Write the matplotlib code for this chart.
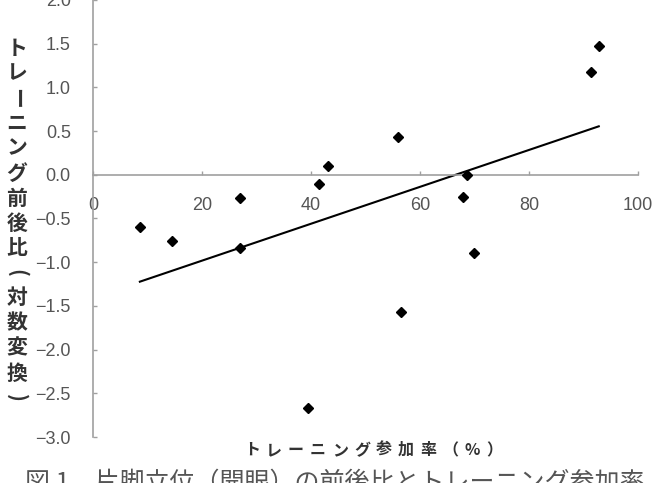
import numpy as np
import matplotlib
matplotlib.use("Agg")
import matplotlib.pyplot as plt

# トレーニング参加率 (%) と 前後比 (対数変換)
participation = [8.6, 14.5, 27.0, 27.0, 39.5, 41.5, 43.2, 56.0, 56.5,
                 67.9, 68.7, 69.9, 91.4, 92.8]
log_ratio = [-0.60, -0.76, -0.27, -0.84, -2.67, -0.11, 0.10, 0.43, -1.57,
             -0.25, 0.00, -0.90, 1.18, 1.47]

x_ticks = [0, 20, 40, 60, 80, 100]
y_ticks = [-3.0, -2.5, -2.0, -1.5, -1.0, -0.5, 0.0, 0.5, 1.0, 1.5, 2.0]

ylabel_chars = list("トレーニング前後比(対数変換)")
xlabel_chars = list("トレーニング参加率（%）")
caption = "図 1　片脚立位（開眼）の前後比とトレーニング参加率"

W, H = 653, 483
CJK = ["Noto Sans CJK JP", "DejaVu Sans"]
ROTATE = {"ー", "(", ")"}


def px(x, y):
    return x / W, 1 - y / H


fig = plt.figure(figsize=(W / 100, H / 100), dpi=100)
ax = fig.add_axes([93 / W, 1 - 437 / H, 545 / W, 437 / H])

ax.plot(participation, log_ratio, "D", color="black", markersize=5.5, zorder=3)

slope, intercept = np.polyfit(participation, log_ratio, 1)
xs = np.array([min(participation), max(participation)])
ax.plot(xs, slope * xs + intercept, color="black", linewidth=1.5, zorder=2)

ax.set_xlim(0, 100)
ax.set_ylim(-3.0, 2.0)
ax.set_xticks(x_ticks)
ax.set_yticks(y_ticks)
ax.set_xticklabels([str(t) for t in x_ticks])
ax.set_yticklabels([f"{t:.1f}".replace("-", "\u2212") for t in y_ticks])

axis_color = "#a0a0a0"
for s in ["top", "right"]:
    ax.spines[s].set_visible(False)
ax.spines["bottom"].set_position(("data", 0))
ax.spines["left"].set_color(axis_color)
ax.spines["bottom"].set_color(axis_color)
ax.spines["left"].set_linewidth(1.2)
ax.spines["bottom"].set_linewidth(1.2)
ax.tick_params(axis="both", direction="in", length=3, width=1.0,
               color=axis_color, labelcolor="#555555", labelsize=13, pad=16)
for lab in ax.get_xticklabels() + ax.get_yticklabels():
    lab.set_family("Liberation Sans")

# 縦書きの y ラベル
for i, ch in enumerate(ylabel_chars):
    fig.text(*px(17, 48 + i * 25), ch, family=CJK, fontsize=15, fontweight="bold",
             color="#333333", ha="center", va="center",
             rotation=-90 if ch in ROTATE else 0, rotation_mode="anchor")

# 字間の広い x ラベル
for i, ch in enumerate(xlabel_chars):
    fig.text(*px(252 + i * 22.0, 450), ch, family=CJK, fontsize=11.5,
             fontweight="bold", color="#333333", ha="center", va="center")

fig.text(*px(25, 470), caption, family=CJK, fontsize=18, color="#555555",
         ha="left", va="top")

fig.savefig("out.png", dpi=100)
